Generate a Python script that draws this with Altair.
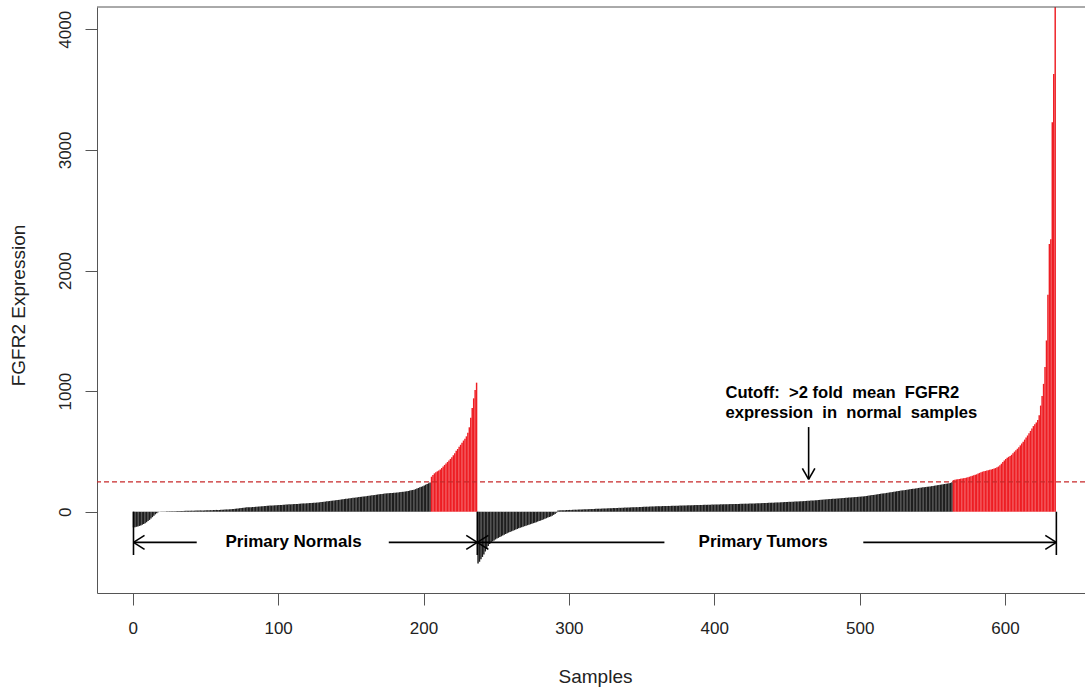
import altair as alt
import pandas as pd

# ---------------- data ----------------
normal_neg = [-130, -128, -125, -122, -118, -114, -108, -102, -95, -87,
              -78, -68, -57, -45, -33, -22, -12, -4]
normal_pos = [1, 1, 2, 2, 2, 3, 3, 3, 4, 4,
              4, 4, 5, 5, 6, 6, 6, 7, 7, 8,
              8, 8, 9, 9, 9, 10, 10, 10, 11, 11,
              11, 11, 12, 12, 13, 13, 13, 14, 14, 15,
              15, 15, 16, 17, 17, 18, 19, 19, 20, 21,
              22, 23, 24, 26, 27, 29, 30, 32, 33, 35,
              36, 37, 38, 38, 39, 40, 41, 42, 43, 44,
              45, 46, 47, 48, 49, 50, 51, 51, 52, 53,
              54, 54, 55, 56, 56, 57, 58, 59, 60, 61,
              61, 62, 63, 64, 64, 65, 66, 67, 68, 69,
              69, 70, 71, 72, 72, 73, 74, 75, 76, 77,
              78, 80, 81, 83, 84, 86, 87, 89, 90, 92,
              93, 95, 97, 98, 100, 102, 103, 105, 107, 108,
              110, 111, 113, 115, 116, 118, 119, 121, 123, 124,
              126, 127, 129, 131, 132, 134, 136, 137, 139, 141,
              142, 144, 146, 147, 149, 150, 152, 153, 154, 155,
              156, 157, 158, 159, 160, 162, 163, 165, 166, 168,
              170, 172, 175, 177, 180, 183, 187, 192, 197, 202,
              207, 212, 218, 224, 230, 236, 243]
normal_high = [290, 305, 318, 328, 335, 342, 350, 362, 375, 388,
               400, 412, 425, 438, 452, 468, 485, 505, 520, 538,
               555, 572, 590, 605, 625, 655, 700, 780, 860, 940,
               1010, 1070]

tumor_neg = [-430, -415, -395, -375, -355, -330, -305, -285, -268, -255,
             -246, -238, -230, -223, -217, -210, -204, -198, -191, -185,
             -178, -173, -168, -163, -158, -153, -148, -143, -138, -133,
             -129, -124, -120, -116, -112, -108, -104, -99, -95, -91,
             -87, -82, -78, -74, -69, -64, -59, -54, -49, -44,
             -39, -33, -26, -18, -8]
tumor_pos = [10, 11, 12, 12, 13, 13, 14, 14, 15, 15,
             16, 16, 17, 17, 18, 18, 19, 19, 20, 20,
             21, 21, 22, 22, 23, 23, 24, 24, 25, 25,
             26, 26, 27, 27, 28, 28, 29, 29, 30, 30,
             31, 31, 32, 32, 33, 33, 34, 34, 35, 35,
             36, 36, 37, 37, 38, 38, 39, 40, 40, 41,
             41, 42, 42, 43, 43, 44, 44, 45, 45, 46,
             46, 46, 47, 47, 47, 48, 48, 48, 49, 49,
             49, 50, 50, 50, 51, 51, 52, 52, 52, 53,
             53, 53, 54, 54, 55, 55, 55, 56, 56, 56,
             57, 57, 57, 58, 58, 58, 59, 59, 59, 60,
             60, 60, 61, 61, 61, 62, 62, 62, 63, 63,
             63, 64, 64, 65, 65, 65, 66, 66, 66, 67,
             67, 67, 68, 68, 69, 69, 69, 70, 70, 71,
             71, 72, 72, 73, 73, 74, 74, 75, 75, 76,
             76, 77, 77, 78, 79, 79, 80, 80, 81, 82,
             82, 83, 83, 84, 85, 85, 86, 87, 87, 88,
             89, 90, 90, 91, 92, 93, 94, 95, 96, 97,
             98, 99, 100, 101, 102, 103, 104, 105, 106, 107,
             107, 108, 109, 110, 111, 112, 113, 114, 115, 116,
             117, 118, 119, 120, 121, 122, 123, 124, 125, 126,
             127, 128, 130, 132, 134, 136, 138, 139, 141, 143,
             145, 147, 149, 150, 152, 154, 156, 158, 160, 161,
             163, 165, 167, 169, 171, 173, 175, 177, 179, 180,
             182, 184, 186, 188, 190, 191, 193, 195, 197, 198,
             200, 202, 203, 205, 207, 208, 210, 212, 214, 216,
             218, 220, 222, 224, 226, 228, 230, 232, 234, 236,
             239, 244]
tumor_high = [262, 265, 268, 270, 272, 274, 276, 278, 280, 283,
              286, 290, 294, 298, 302, 306, 310, 316, 322, 328,
              332, 335, 338, 341, 344, 347, 350, 354, 358, 362,
              368, 375, 385, 398, 412, 425, 438, 448, 455, 462,
              472, 485, 498, 510, 522, 535, 550, 565, 580, 598,
              615, 632, 650, 670, 690, 710, 725, 740, 760, 800,
              880, 960, 1060, 1200, 1420, 1800, 2220, 2260, 3230, 3630,
              4400]

CUTOFF = 248
x_ticks = [0, 100, 200, 300, 400, 500, 600]
y_ticks = [0, 1000, 2000, 3000, 4000]
X_DOMAIN = [-24.6, 655.0]
Y_DOMAIN = [-674, 4185]

# annotation segments (data units): bracket lines and arrow heads
seg_x  = [0.5, 0.5, 0.5, 0.5, 176.1, 237.0, 237.0, 237.0, 237.0, 237.0, 237.0, 502.5, 635.3, 635.3, 635.3, 464.9, 464.9, 464.9]
seg_x2 = [0.5, 44.0, 8.1, 8.1, 237.0, 237.0, 229.4, 229.4, 365.7, 244.6, 244.6, 635.3, 635.3, 627.7, 627.7, 464.9, 460.6, 469.2]
seg_y  = [0, -254, -254, -254, -254, 0, -254, -254, -254, -254, -254, -254, 0, -254, -254, 702, 269, 269]
seg_y2 = [-359, -254, -196, -312, -254, -359, -196, -312, -254, -196, -312, -254, -359, -196, -312, 269, 360, 360]

label_text = ["Primary Normals", "Primary Tumors",
              "Cutoff:\u00a0 >2 fold\u00a0 mean\u00a0 FGFR2",
              "expression\u00a0 in\u00a0 normal\u00a0 samples"]
label_x = [110.6, 433.6, 407.7, 407.7]
label_y = [-251, -251, 947, 781]
label_align = ["center", "center", "left", "left"]

RED = "#EE1D23"
DARK = "#1E1E1E"
FRAME = "#555555"
AXFONT = "Liberation Sans, Arial, sans-serif"
BFONT = "Liberation Sans, Arial, sans-serif"

values = normal_neg + normal_pos + normal_high + tumor_neg + tumor_pos + tumor_high
bars = pd.DataFrame({"idx": list(range(1, len(values) + 1)), "value": values})

xs = alt.Scale(domain=X_DOMAIN, nice=False, zero=False)
ys = alt.Scale(domain=Y_DOMAIN, nice=False, zero=False)

x_axis = alt.Axis(
    values=x_ticks, format="d", title="Samples", grid=False, tickSize=12,
    tickColor=FRAME, domainColor=FRAME, labelColor="#222222",
    labelFont=AXFONT, labelFontSize=17, labelPadding=15,
    labelBaseline="top", titleFont=AXFONT, titleFontSize=19,
    titleFontWeight="normal", titleColor="#222222",
    titleX=498, titleY=83, titleBaseline="middle", titleAlign="center")
y_axis = alt.Axis(
    values=y_ticks, format="d", title="FGFR2 Expression", grid=False, tickSize=12,
    tickColor=FRAME, domainColor=FRAME, labelColor="#222222",
    labelFont=AXFONT, labelFontSize=17, labelAngle=270,
    labelAlign="center", labelBaseline="alphabetic", labelPadding=15,
    titleFont=AXFONT, titleFontSize=19, titleFontWeight="normal",
    titleColor="#222222", titleAngle=270, titleX=-79, titleY=298,
    titleAlign="center", titleBaseline="middle")

bar_layer = alt.Chart(bars).transform_calculate(
    x0="datum.idx - 1", zero="0"
).mark_bar(clip=True, strokeWidth=0).encode(
    x=alt.X("x0:Q", scale=xs, axis=x_axis),
    x2="idx:Q",
    y=alt.Y("value:Q", scale=ys, axis=y_axis),
    y2="zero:Q",
    color=alt.condition(alt.datum.value > CUTOFF, alt.value(RED), alt.value(DARK)),
)

cut_layer = alt.Chart(pd.DataFrame({"c": [CUTOFF]})).mark_rule(
    color="#C8282A", strokeDash=[5, 3], strokeWidth=1.2
).encode(y=alt.Y("c:Q", scale=ys, axis=y_axis))

segs = pd.DataFrame({"x": seg_x, "x2": seg_x2, "y": seg_y, "y2": seg_y2})
seg_layer = alt.Chart(segs).mark_rule(color="#000000", strokeWidth=1.6).encode(
    x=alt.X("x:Q", scale=xs, axis=x_axis), x2="x2:Q",
    y=alt.Y("y:Q", scale=ys, axis=y_axis), y2="y2:Q")

labels = pd.DataFrame({"t": label_text, "x": label_x, "y": label_y, "a": label_align})
text_center = alt.Chart(labels[labels.a == "center"]).mark_text(
    font=BFONT, fontSize=17, fontWeight="bold", align="center",
    baseline="middle", color="#000000"
).encode(x=alt.X("x:Q", scale=xs, axis=x_axis), y=alt.Y("y:Q", scale=ys, axis=y_axis), text="t:N")
text_left = alt.Chart(labels[labels.a == "left"]).mark_text(
    font=BFONT, fontSize=16.6, fontWeight="bold", align="left",
    baseline="alphabetic", color="#000000"
).encode(x=alt.X("x:Q", scale=xs, axis=x_axis), y=alt.Y("y:Q", scale=ys, axis=y_axis), text="t:N")

top_frame = alt.Chart(pd.DataFrame({"k": [0]})).mark_rule(color=FRAME, strokeWidth=1).encode(
    x=alt.value(0), x2=alt.value(988), y=alt.value(0))

chart = alt.layer(bar_layer, cut_layer, seg_layer, text_center, text_left, top_frame).properties(
    width=988, height=586,
    autosize=alt.AutoSizeParams(type="none"),
    padding={"left": 97, "top": 7, "right": 0, "bottom": 94},
    background="#FFFFFF",
).configure_view(stroke=None)

chart.save("out.html", embed_options={"renderer": "svg", "actions": False})
